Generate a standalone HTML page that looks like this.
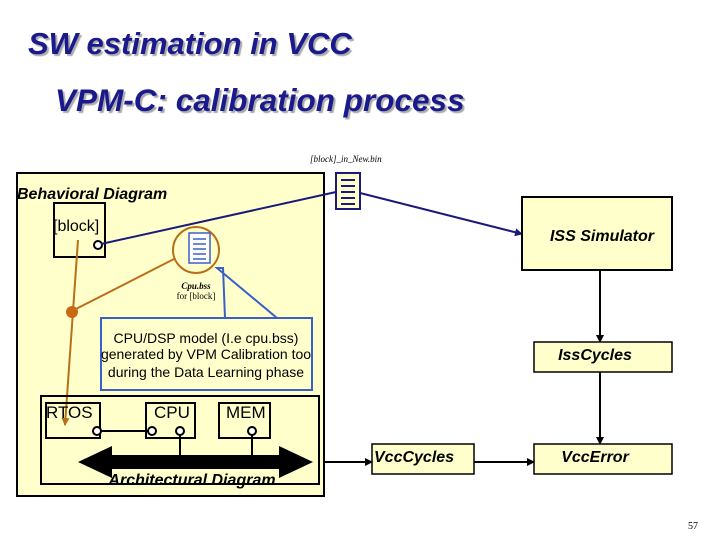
<!DOCTYPE html>
<html><head><meta charset="utf-8"><style>
body{margin:0;width:720px;height:540px;background:#fff;position:relative;overflow:hidden;font-family:"Liberation Sans",sans-serif}
.t{position:absolute;font-weight:bold;font-style:italic;color:#1a1a8c;text-shadow:2px 2px 1px #aaa;white-space:nowrap}
</style></head><body>
<div class="t" style="left:28px;top:26px;font-size:31px">SW estimation in VCC</div>
<div class="t" style="left:55px;top:82px;font-size:31.5px">VPM-C: calibration process</div>
<svg width="720" height="540" style="position:absolute;left:0;top:0" font-family="Liberation Sans, sans-serif">
<defs>
<marker id="a" markerWidth="8" markerHeight="8" refX="7" refY="4" orient="auto" markerUnits="userSpaceOnUse"><path d="M0,0 L8,4 L0,8z" fill="#000"/></marker>
<marker id="b" markerWidth="8" markerHeight="8" refX="7" refY="4" orient="auto" markerUnits="userSpaceOnUse"><path d="M0,0 L8,4 L0,8z" fill="#1a1a7a"/></marker>
<marker id="o" markerWidth="8" markerHeight="8" refX="7" refY="4" orient="auto" markerUnits="userSpaceOnUse"><path d="M0,0 L8,4 L0,8z" fill="#b8701a"/></marker>
</defs>
<rect x="17" y="173" width="307" height="323" fill="#ffffcc" stroke="#000" stroke-width="2"/>
<text x="17" y="199" font-size="16" font-weight="bold" font-style="italic">Behavioral Diagram</text>
<rect x="54" y="203" width="51" height="54" fill="#ffffcc" stroke="#000" stroke-width="2"/>
<text x="53" y="231" font-size="16">[block]</text>
<circle cx="98" cy="245" r="4" fill="#fff" stroke="#000" stroke-width="2"/>
<text x="310" y="162" font-size="9" font-style="italic" font-family="Liberation Serif, serif">[block]_in_New.bin</text>
<rect x="336" y="173" width="24" height="36" fill="#ffffcc" stroke="#1a1a7a" stroke-width="2"/>
<g stroke="#1a1a7a" stroke-width="2"><line x1="341" y1="180" x2="355" y2="180"/><line x1="341" y1="186" x2="355" y2="186"/><line x1="341" y1="192" x2="355" y2="192"/><line x1="341" y1="198" x2="355" y2="198"/><line x1="341" y1="204" x2="355" y2="204"/></g>
<line x1="336" y1="192" x2="101" y2="244" stroke="#1a1a7a" stroke-width="2"/>
<line x1="360" y1="193" x2="522" y2="234" stroke="#1a1a7a" stroke-width="2" marker-end="url(#b)"/>
<circle cx="196" cy="250" r="23" fill="none" stroke="#b8701a" stroke-width="2"/>
<rect x="189" y="233" width="21" height="30" fill="#fff" stroke="#3a5fc8" stroke-width="1.5"/>
<g stroke="#3a5fc8" stroke-width="1.5"><line x1="193" y1="239" x2="206" y2="239"/><line x1="193" y1="244" x2="206" y2="244"/><line x1="193" y1="249" x2="206" y2="249"/><line x1="193" y1="254" x2="206" y2="254"/><line x1="193" y1="259" x2="206" y2="259"/></g>
<text x="196" y="289" font-size="9" font-style="italic" font-weight="bold" text-anchor="middle" font-family="Liberation Serif, serif">Cpu.bss</text>
<text x="196" y="299" font-size="9" text-anchor="middle" font-family="Liberation Serif, serif">for [block]</text>
<line x1="78" y1="240" x2="65" y2="425" stroke="#b8701a" stroke-width="2" marker-end="url(#o)"/>
<line x1="72" y1="311" x2="174" y2="259" stroke="#b8701a" stroke-width="2"/>
<circle cx="72" cy="312" r="6" fill="#c86a10"/>
<polyline points="225,318 223,268 217,268 277,318" fill="none" stroke="#3a5fc8" stroke-width="2"/>
<rect x="101" y="318" width="211" height="72" fill="none" stroke="#3a5fc8" stroke-width="2"/>
<text x="206" y="343" font-size="14" text-anchor="middle">CPU/DSP model (I.e cpu.bss)</text>
<text x="206" y="359" font-size="14" text-anchor="middle">generated by VPM Calibration too</text>
<text x="206" y="377" font-size="14" text-anchor="middle">during the Data Learning phase</text>
<rect x="41" y="396" width="278" height="88" fill="none" stroke="#000" stroke-width="2"/>
<rect x="46" y="403" width="54" height="35" fill="none" stroke="#000" stroke-width="2"/>
<rect x="146" y="403" width="49" height="35" fill="none" stroke="#000" stroke-width="2"/>
<rect x="219" y="403" width="51" height="35" fill="none" stroke="#000" stroke-width="2"/>
<text x="46" y="418" font-size="17">RTOS</text>
<text x="154" y="418" font-size="17">CPU</text>
<text x="226" y="418" font-size="17">MEM</text>
<line x1="99" y1="431" x2="150" y2="431" stroke="#000" stroke-width="2"/>
<circle cx="97" cy="431" r="4" fill="#fff" stroke="#000" stroke-width="2"/>
<circle cx="152" cy="431" r="4" fill="#fff" stroke="#000" stroke-width="2"/>
<circle cx="180" cy="431" r="4" fill="#fff" stroke="#000" stroke-width="2"/>
<circle cx="252" cy="431" r="4" fill="#fff" stroke="#000" stroke-width="2"/>
<line x1="180" y1="435" x2="180" y2="462" stroke="#000" stroke-width="2"/>
<line x1="252" y1="435" x2="252" y2="462" stroke="#000" stroke-width="2"/>
<path d="M78,462 L112,446 L112,455 L279,455 L279,446 L313,462 L279,478 L279,469 L112,469 L112,478 Z" fill="#000"/>
<text x="192" y="485" font-size="16" font-weight="bold" font-style="italic" text-anchor="middle">Architectural Diagram</text>
<rect x="522" y="197" width="150" height="73" fill="#ffffcc" stroke="#000" stroke-width="2"/>
<text x="602" y="241" font-size="16" font-weight="bold" font-style="italic" text-anchor="middle">ISS Simulator</text>
<rect x="534" y="342" width="138" height="30" fill="#ffffcc" stroke="#000" stroke-width="1.5"/>
<text x="595" y="360" font-size="16" font-weight="bold" font-style="italic" text-anchor="middle">IssCycles</text>
<rect x="534" y="444" width="138" height="30" fill="#ffffcc" stroke="#000" stroke-width="1.5"/>
<text x="595" y="462" font-size="16" font-weight="bold" font-style="italic" text-anchor="middle">VccError</text>
<rect x="372" y="444" width="102" height="30" fill="#ffffcc" stroke="#000" stroke-width="1.5"/>
<text x="374" y="462" font-size="16" font-weight="bold" font-style="italic">VccCycles</text>
<line x1="600" y1="270" x2="600" y2="342" stroke="#000" stroke-width="2" marker-end="url(#a)"/>
<line x1="600" y1="372" x2="600" y2="444" stroke="#000" stroke-width="2" marker-end="url(#a)"/>
<line x1="325" y1="462" x2="372" y2="462" stroke="#000" stroke-width="2" marker-end="url(#a)"/>
<line x1="474" y1="462" x2="534" y2="462" stroke="#000" stroke-width="2" marker-end="url(#a)"/>
<text x="688" y="529" font-size="10" font-family="Liberation Serif, serif">57</text>
</svg>
</body></html>
